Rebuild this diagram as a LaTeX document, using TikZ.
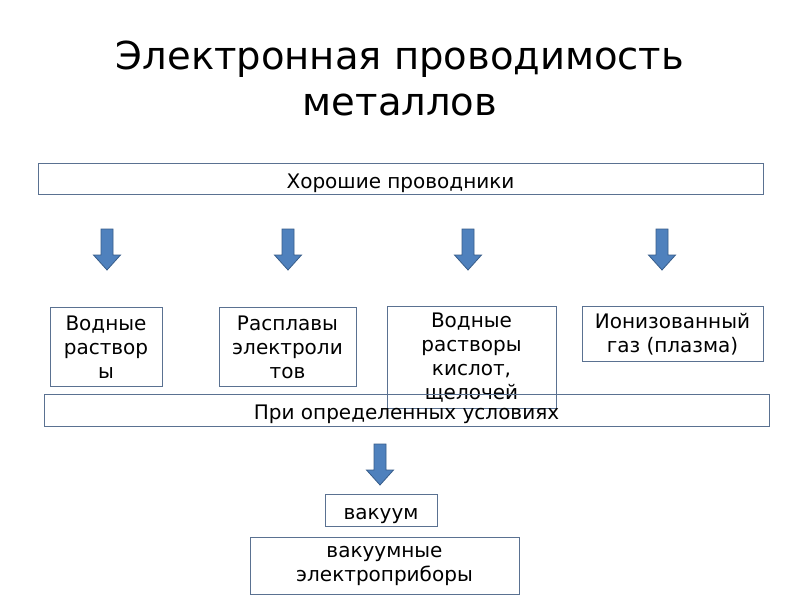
\documentclass[tikz,border=0pt]{standalone}
\usepackage{fontspec}
\setmainfont{DejaVu Sans}
\definecolor{boxline}{RGB}{90,113,145}
\definecolor{arrowblue}{RGB}{79,129,189}
\definecolor{arrowedge}{RGB}{56,93,138}

\begin{document}
\begin{tikzpicture}[x=1pt,y=-1pt,
  box/.style={draw=boxline,line width=0.8pt,align=center,inner sep=0pt,
    font=\fontsize{20}{24}\selectfont},
  oneline/.style={box,text height=19pt,text depth=0pt},
  pics/downarrow/.style={code={
    \draw[fill=arrowblue,draw=arrowedge,line width=0.8pt] (-6,0) -- (6,0) -- (6,26)
      -- (13.5,26) -- (0,41) -- (-13.5,26) -- (-6,26) -- cycle;}}]

  \useasboundingbox[fill=white] (0,0) rectangle (800,600);

  % title
  \node[font=\fontsize{38.5}{46}\selectfont,align=center] (title) at (400,78)
    {Электронная проводимость\\металлов};

  % top box
  \node[oneline,minimum width=725pt,minimum height=31pt] (good) at (400.5,178.5) {Хорошие проводники};

  % arrows
  \pic at (107,229) {downarrow};
  \pic at (288,229) {downarrow};
  \pic at (468,229) {downarrow};
  \pic at (662,229) {downarrow};

  % row of boxes
  \node[box,minimum width=112pt,minimum height=79pt] (water) at (106,347) {Водные\\раствор\\ы};
  \node[box,minimum width=137pt,minimum height=79pt] (melt) at (287.5,347) {Расплавы\\электроли\\тов};
  \node[box,minimum width=169pt,minimum height=102pt] (acid) at (471.5,357.5) {Водные\\растворы\\кислот,\\щелочей};
  \node[box,minimum width=181pt,minimum height=55pt] (gas) at (672.5,334) {Ионизованный\\газ (плазма)};

  % conditions
  \node[oneline,minimum width=725pt,minimum height=32pt] (cond) at (406.5,410) {При определенных условиях};

  \pic at (380,444) {downarrow};

  \node[oneline,minimum width=112pt,minimum height=32pt] (vac) at (381,510) {вакуум};
  \node[box,minimum width=269pt,minimum height=57pt] (dev) at (384.5,565.5) {вакуумные\\электроприборы};
\end{tikzpicture}
\end{document}
